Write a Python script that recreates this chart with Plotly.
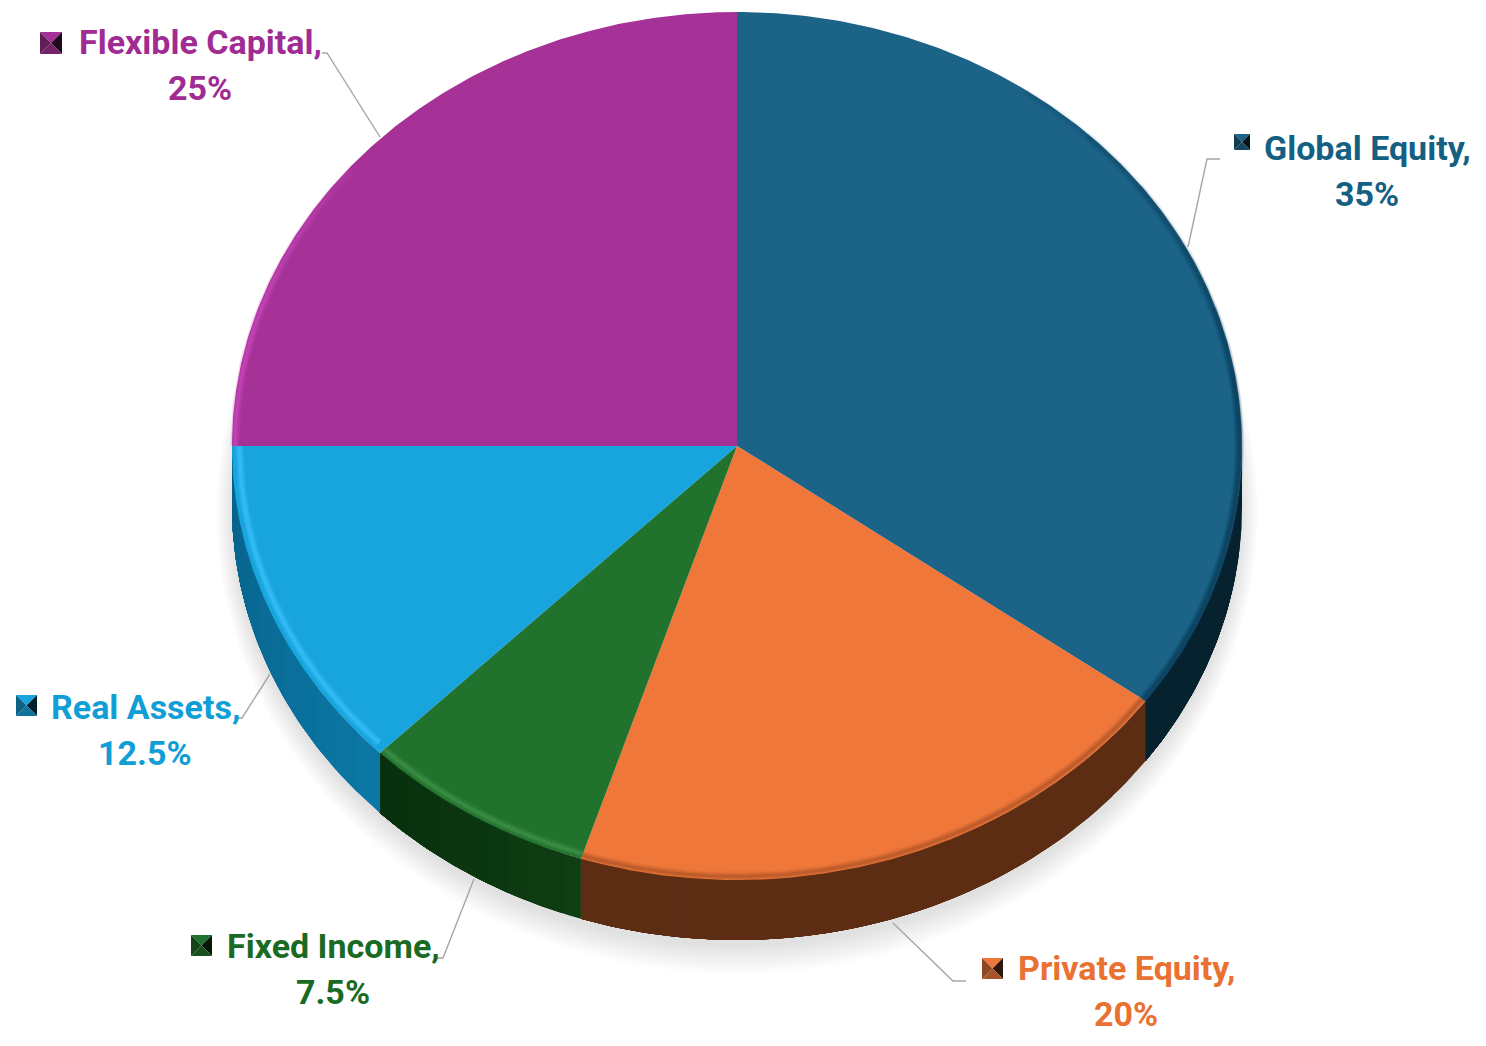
import numpy as np
import plotly.graph_objects as go

# allocation
categories = ["Global Equity", "Private Equity", "Fixed Income", "Real Assets", "Flexible Capital"]
shares = [35, 20, 7.5, 12.5, 25]
share_labels = ["35%", "20%", "7.5%", "12.5%", "25%"]

# colours
top_colors = ["#1C6388", "#EE7739", "#21722C", "#18A4DD", "#A63297"]
text_colors = ["#156082", "#E97132", "#196B24", "#0F9ED5", "#A02B93"]
side_from = ["#06222F", "#5C2C13", "#0F3E13", "#0C77A5", "#000000"]
side_to = ["#06222F", "#5C2C13", "#08300E", "#07628A", "#000000"]
rim_colors = ["#0E3F59", "#9A4A22", "#3F9049", "#36BDF6", "#CF4FC3"]

# page pixels
cx, cy, rx, ry, depth = 737, 446, 505, 434, 60
font = "Roboto"

label_xy = [(1367, 148), (1126, 968), (333, 946), (145, 707), (200, 42)]
key_boxes = [(1234, 134, 16), (982, 958, 21), (191, 935, 21), (16, 695, 21), (40, 32, 22)]
leaders = [
    [(1188, 247), (1207, 159), (1220, 159)],
    [(893, 923), (953, 981), (966, 981)],
    [(474, 879), (443, 958), (435, 958)],
    [(270, 674), (242, 718), (236, 718)],
    [(380, 137), (327, 53), (322, 53)],
]
line_gap = 46


def pt(angle, scale=1.0, dy=0):
    a = np.radians(angle)
    return cx + rx * scale * np.sin(a), cy + dy - ry * scale * np.cos(a)


def mix(c1, c2, t):
    a = [int(c1[i:i + 2], 16) for i in (1, 3, 5)]
    b = [int(c2[i:i + 2], 16) for i in (1, 3, 5)]
    return "rgb(%d,%d,%d)" % tuple(a[i] + (b[i] - a[i]) * t for i in range(3))


def poly(fig, x, y, color):
    fig.add_trace(go.Scatter(x=x, y=y, mode="lines", fill="toself", fillcolor=color,
                             line=dict(width=0), hoverinfo="skip"))


fig = go.Figure()

# soft shadow under the pie
full = np.linspace(0, 360, 361)
for k in range(30, 0, -2):
    sx = cx + (rx + k * 0.6 - 2) * np.sin(np.radians(full))
    sy = cy + depth + 6 - (ry + k - 2) * np.cos(np.radians(full))
    poly(fig, sx, sy, "rgba(150,150,150,0.022)")

edges = np.concatenate([[0], np.cumsum(shares)]) / sum(shares) * 360

# side wall, front half only
for i in range(len(shares)):
    a0, a1 = max(edges[i], 90), min(edges[i + 1], 270)
    if a1 <= a0:
        continue
    for j in range(12):
        t = np.linspace(a0 + (a1 - a0) * j / 12, a1, 60)
        x0, y0 = pt(t)
        x1, y1 = pt(t[::-1], dy=depth)
        poly(fig, np.r_[x0, x1], np.r_[y0, y1], mix(side_from[i], side_to[i], j / 11))

# top face
for i in range(len(shares)):
    t = np.linspace(edges[i], edges[i + 1], 200)
    x, y = pt(t)
    poly(fig, np.r_[cx, x], np.r_[cy, y], top_colors[i])

# bevel along the rim of each slice, global and flexible fade out towards the top
rim_span = [(35, 126, 0.8), (126, 198, 0.45), (198, 225, 0.8), (226, 270, 1.0), (270, 310, 0.8)]
rim_inset = [0.995, 0.992, 0.988, 0.985, 0.994]
rim_fade = [1, 0, 0, 0, -1]
for i in range(len(shares)):
    a0, a1, strength = rim_span[i]
    steps = 6 if rim_fade[i] else 1
    for s in range(steps):
        t0 = a0 + (a1 - a0) * 0.6 * s / steps if rim_fade[i] > 0 else a0
        t1 = a1 - (a1 - a0) * 0.6 * s / steps if rim_fade[i] < 0 else a1
        x, y = pt(np.linspace(t0, t1, 120), rim_inset[i])
        for width, op in [(9, 0.25), (6, 0.45), (3, 0.8)]:
            fig.add_trace(go.Scatter(x=x, y=y, mode="lines", opacity=op * strength / steps,
                                     line=dict(color=rim_colors[i], width=width), hoverinfo="skip"))

# leader lines
for path in leaders:
    fig.add_trace(go.Scatter(x=[p[0] for p in path], y=[p[1] for p in path], mode="lines",
                             line=dict(color="#A6A6A6", width=1.4), hoverinfo="skip"))

# labels and their little pyramid keys
shapes = []
for i, name in enumerate(categories):
    for dy, txt in [(0, name + ","), (line_gap, share_labels[i])]:
        fig.add_annotation(x=label_xy[i][0], y=label_xy[i][1] + dy, showarrow=False,
                           xanchor="center", yanchor="middle", text="<b>%s</b>" % txt,
                           font=dict(family=font, size=34, color=text_colors[i]))
    kx, ky, ks = key_boxes[i]
    mx, my = kx + ks / 2, ky + ks / 2
    corners = [(kx, ky), (kx + ks, ky), (kx + ks, ky + ks), (kx, ky + ks)]
    shades = [top_colors[i], mix(top_colors[i], "#000000", 0.8), mix(top_colors[i], "#000000", 0.3),
              mix(top_colors[i], "#000000", 0.4)]
    for c in range(4):
        p, q = corners[c], corners[(c + 1) % 4]
        shapes.append(dict(type="path", path="M%s,%s L%s,%s L%s,%s Z" % (p[0], p[1], q[0], q[1], mx, my),
                           fillcolor=shades[c], line=dict(width=0), layer="above"))

fig.update_layout(
    width=1486, height=1046, margin=dict(l=0, r=0, t=0, b=0),
    paper_bgcolor="white", plot_bgcolor="white", showlegend=False, shapes=shapes,
    xaxis=dict(range=[0, 1486], visible=False, fixedrange=True),
    yaxis=dict(range=[1046, 0], visible=False, fixedrange=True),
)
fig.write_html("out.html", config=dict(displayModeBar=False),
               post_script="document.body.style.margin='0';document.body.style.overflow='hidden';")
